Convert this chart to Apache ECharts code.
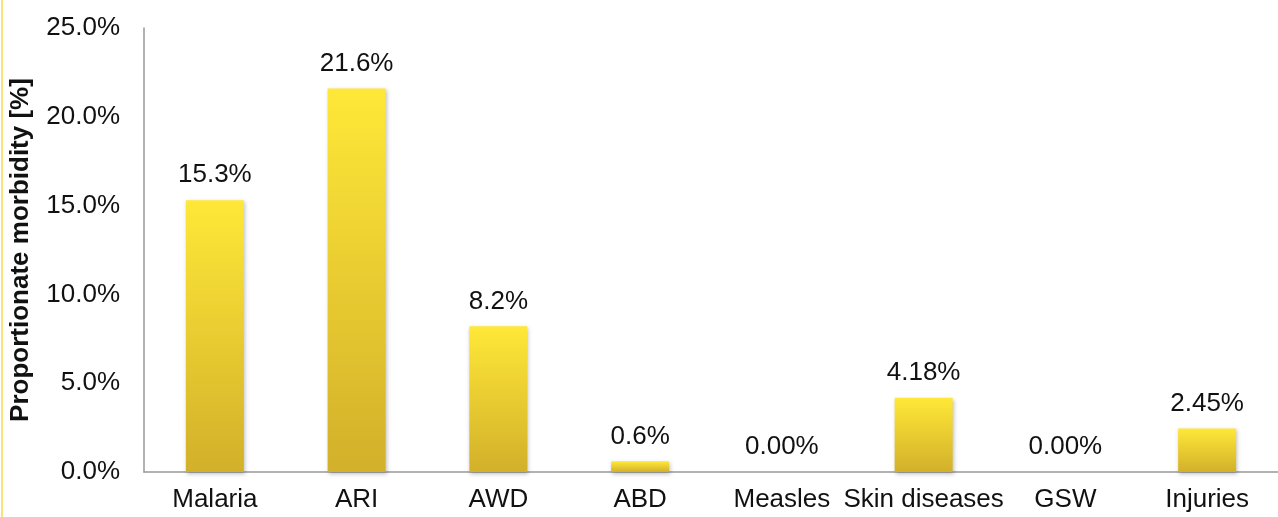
<!DOCTYPE html>
<html>
<head>
<meta charset="utf-8">
<script src="https://cdn.jsdelivr.net/npm/echarts@6/dist/echarts.min.js"></script>
<style>
  html, body { margin: 0; padding: 0; background: #fff; }
  #chart { width: 1278px; height: 517px; }
</style>
</head>
<body>
<div id="chart"></div>
<script>
// morbidity by disease
const categories = ['Malaria', 'ARI', 'AWD', 'ABD', 'Measles', 'Skin diseases', 'GSW', 'Injuries']
const values = [15.3, 21.6, 8.2, 0.6, 0, 4.18, 0, 2.45]
const valueLabels = ['15.3%', '21.6%', '8.2%', '0.6%', '0.00%', '4.18%', '0.00%', '2.45%']
const yTicks = [0, 5, 10, 15, 20, 25]

const font = 'Liberation Sans, Arial, sans-serif'
const chart = echarts.init(document.getElementById('chart'))

chart.setOption({
  animation: false,
  grid: { left: 144, right: 0, top: 28, bottom: 45 },
  graphic: [{
    type: 'rect',
    shape: { x: 1, y: 0, width: 2, height: 517 },
    style: { fill: '#f7e37a' }
  }],
  xAxis: {
    type: 'category',
    data: categories,
    axisLine: { lineStyle: { color: '#999', width: 1.5 } },
    axisTick: { show: false },
    axisLabel: { color: '#111', fontSize: 26, fontFamily: font, margin: 15, interval: 0 }
  },
  yAxis: {
    type: 'value',
    min: yTicks[0],
    max: yTicks[yTicks.length - 1],
    interval: 5,
    name: 'Proportionate morbidity [%]',
    nameLocation: 'middle',
    nameGap: 110,
    nameTextStyle: { color: '#111', fontSize: 26, fontWeight: 'bold', fontFamily: font },
    axisLine: { show: true, lineStyle: { color: '#999', width: 1.5 } },
    axisTick: { show: false },
    splitLine: { show: false },
    axisLabel: {
      color: '#111', fontSize: 26, fontFamily: font, margin: 24,
      formatter: v => v.toFixed(1) + '%'
    }
  },
  series: [{
    type: 'bar',
    data: values,
    barWidth: 58,
    itemStyle: {
      color: new echarts.graphic.LinearGradient(0, 0, 0, 1, [
        { offset: 0, color: '#ffe838' },
        { offset: 1, color: '#d2b02a' }
      ]),
      shadowColor: 'rgba(0,0,0,0.25)',
      shadowBlur: 4,
      shadowOffsetX: 1,
      shadowOffsetY: 2
    },
    label: {
      show: true,
      position: 'top',
      distance: 12,
      color: '#111',
      fontSize: 26,
      fontFamily: font,
      formatter: p => valueLabels[p.dataIndex]
    }
  }]
})
</script>
</body>
</html>
